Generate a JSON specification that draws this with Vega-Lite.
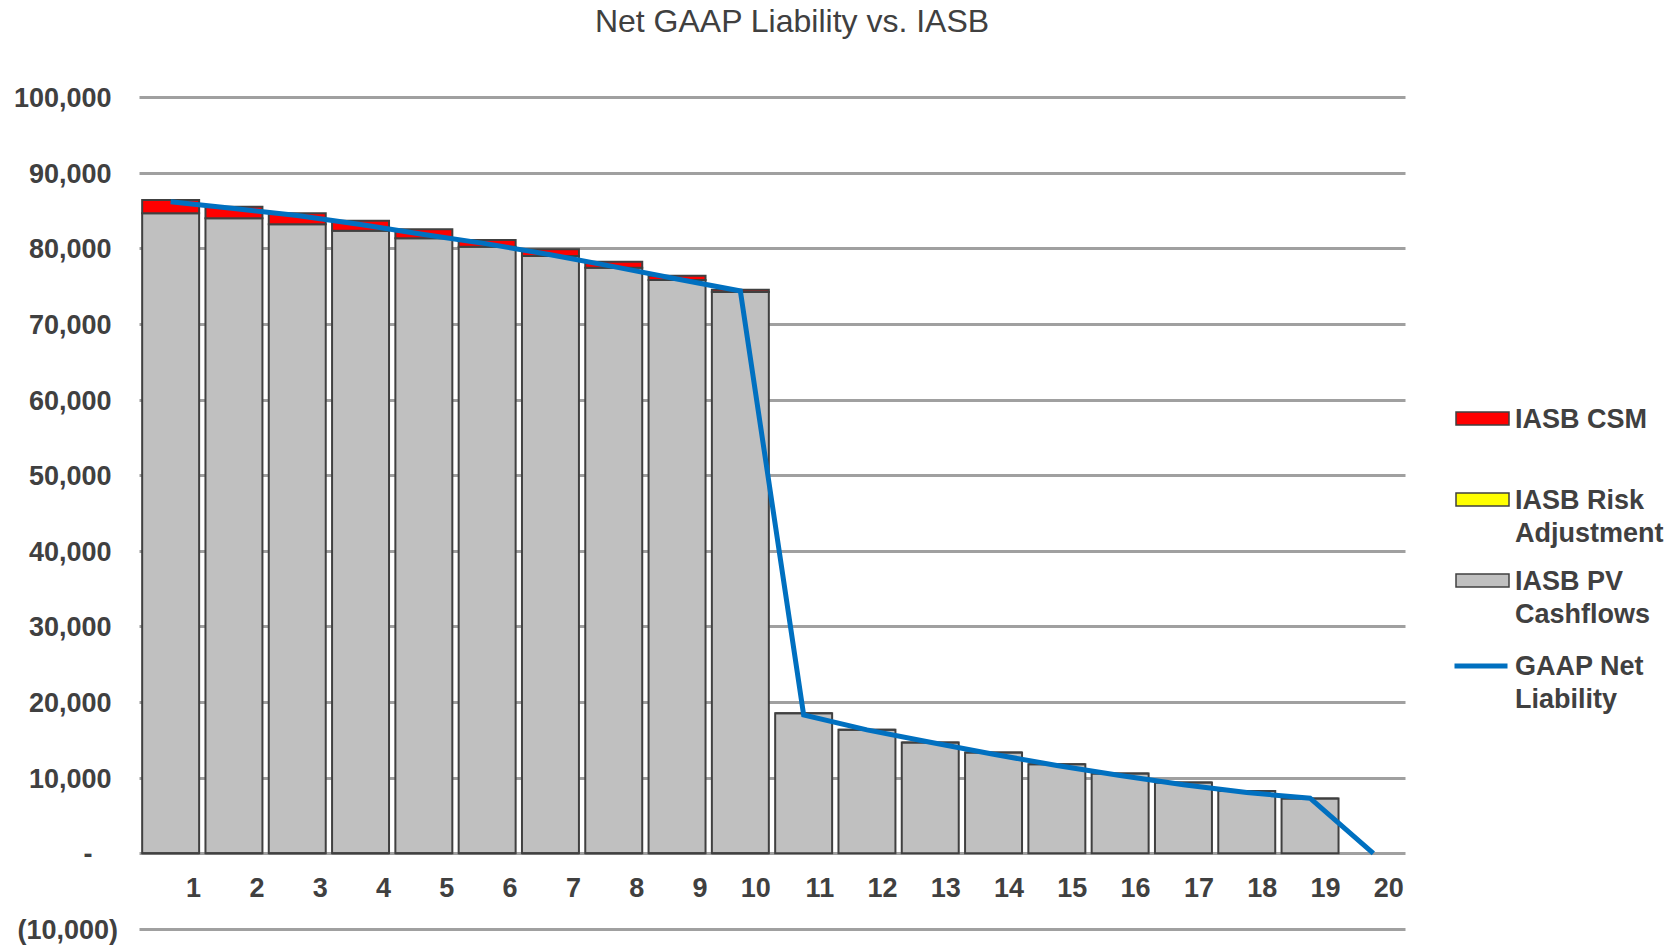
{
  "$schema": "https://vega.github.io/schema/vega-lite/v6.json",
  "width": 1266,
  "height": 832,
  "autosize": "none",
  "padding": {"left": 139, "top": 97, "right": 270, "bottom": 18},
  "background": "white",
  "config": {
    "view": {"stroke": null},
    "font": "Liberation Sans",
    "axis": {"labelFont": "Liberation Sans", "labelFontSize": 27, "labelFontWeight": "bold", "labelColor": "#404040", "title": null}
  },
  "title": {
    "text": "Net GAAP Liability vs. IASB",
    "font": "Liberation Sans",
    "fontSize": 32,
    "fontWeight": "normal",
    "color": "#404040",
    "anchor": "middle",
    "frame": "group",
    "dx": 20,
    "baseline": "alphabetic",
    "offset": 21
  },
  "datasets": {
    "bars": [
      {"period": 1, "series": "IASB PV Cashflows", "value": 84630},
      {"period": 2, "series": "IASB PV Cashflows", "value": 83960},
      {"period": 3, "series": "IASB PV Cashflows", "value": 83170},
      {"period": 4, "series": "IASB PV Cashflows", "value": 82330},
      {"period": 5, "series": "IASB PV Cashflows", "value": 81320},
      {"period": 6, "series": "IASB PV Cashflows", "value": 80210},
      {"period": 7, "series": "IASB PV Cashflows", "value": 78980},
      {"period": 8, "series": "IASB PV Cashflows", "value": 77440},
      {"period": 9, "series": "IASB PV Cashflows", "value": 75810},
      {"period": 10, "series": "IASB PV Cashflows", "value": 74220},
      {"period": 11, "series": "IASB PV Cashflows", "value": 18530},
      {"period": 12, "series": "IASB PV Cashflows", "value": 16330},
      {"period": 13, "series": "IASB PV Cashflows", "value": 14650},
      {"period": 14, "series": "IASB PV Cashflows", "value": 13330},
      {"period": 15, "series": "IASB PV Cashflows", "value": 11790},
      {"period": 16, "series": "IASB PV Cashflows", "value": 10550},
      {"period": 17, "series": "IASB PV Cashflows", "value": 9360},
      {"period": 18, "series": "IASB PV Cashflows", "value": 8260},
      {"period": 19, "series": "IASB PV Cashflows", "value": 7250},
      {"period": 1, "series": "IASB Risk Adjustment", "value": 0},
      {"period": 2, "series": "IASB Risk Adjustment", "value": 0},
      {"period": 3, "series": "IASB Risk Adjustment", "value": 0},
      {"period": 4, "series": "IASB Risk Adjustment", "value": 0},
      {"period": 5, "series": "IASB Risk Adjustment", "value": 0},
      {"period": 6, "series": "IASB Risk Adjustment", "value": 0},
      {"period": 7, "series": "IASB Risk Adjustment", "value": 0},
      {"period": 8, "series": "IASB Risk Adjustment", "value": 0},
      {"period": 9, "series": "IASB Risk Adjustment", "value": 0},
      {"period": 10, "series": "IASB Risk Adjustment", "value": 0},
      {"period": 1, "series": "IASB CSM", "value": 1760},
      {"period": 2, "series": "IASB CSM", "value": 1540},
      {"period": 3, "series": "IASB CSM", "value": 1460},
      {"period": 4, "series": "IASB CSM", "value": 1320},
      {"period": 5, "series": "IASB CSM", "value": 1190},
      {"period": 6, "series": "IASB CSM", "value": 890},
      {"period": 7, "series": "IASB CSM", "value": 890},
      {"period": 8, "series": "IASB CSM", "value": 790},
      {"period": 9, "series": "IASB CSM", "value": 570},
      {"period": 10, "series": "IASB CSM", "value": 310},
      {"period": 11, "series": "IASB CSM", "value": 0},
      {"period": 12, "series": "IASB CSM", "value": 0},
      {"period": 13, "series": "IASB CSM", "value": 0},
      {"period": 14, "series": "IASB CSM", "value": 0},
      {"period": 15, "series": "IASB CSM", "value": 0},
      {"period": 16, "series": "IASB CSM", "value": 0},
      {"period": 17, "series": "IASB CSM", "value": 0},
      {"period": 18, "series": "IASB CSM", "value": 0},
      {"period": 19, "series": "IASB CSM", "value": 0}
    ],
    "line": [
      {"period": 1, "series": "GAAP Net Liability", "gaap": 86160},
      {"period": 2, "series": "GAAP Net Liability", "gaap": 85260},
      {"period": 3, "series": "GAAP Net Liability", "gaap": 84330},
      {"period": 4, "series": "GAAP Net Liability", "gaap": 83130},
      {"period": 5, "series": "GAAP Net Liability", "gaap": 81820},
      {"period": 6, "series": "GAAP Net Liability", "gaap": 80580},
      {"period": 7, "series": "GAAP Net Liability", "gaap": 79150},
      {"period": 8, "series": "GAAP Net Liability", "gaap": 77570},
      {"period": 9, "series": "GAAP Net Liability", "gaap": 75940},
      {"period": 10, "series": "GAAP Net Liability", "gaap": 74360},
      {"period": 11, "series": "GAAP Net Liability", "gaap": 18310},
      {"period": 12, "series": "GAAP Net Liability", "gaap": 16330},
      {"period": 13, "series": "GAAP Net Liability", "gaap": 14700},
      {"period": 14, "series": "GAAP Net Liability", "gaap": 13110},
      {"period": 15, "series": "GAAP Net Liability", "gaap": 11610},
      {"period": 16, "series": "GAAP Net Liability", "gaap": 10290},
      {"period": 17, "series": "GAAP Net Liability", "gaap": 9080},
      {"period": 18, "series": "GAAP Net Liability", "gaap": 8040},
      {"period": 19, "series": "GAAP Net Liability", "gaap": 7290},
      {"period": 20, "series": "GAAP Net Liability", "gaap": 0}
    ]
  },
  "layer": [
    {
      "data": {"name": "bars"},
      "mark": {"type": "bar", "stroke": "#404040", "strokeWidth": 2},
      "encoding": {
        "x": {
          "field": "period",
          "type": "ordinal",
          "scale": {"domain": [1,2,3,4,5,6,7,8,9,10,11,12,13,14,15,16,17,18,19,20], "paddingInner": 0.1, "paddingOuter": 0.05},
          "axis": {"orient": "bottom", "offset": -75.6, "domain": false, "ticks": false, "grid": false, "labelAngle": 0, "labelAlign": "right", "labelOffset": 30.5, "labelPadding": 22}
        },
        "y": {
          "field": "value",
          "type": "quantitative",
          "stack": "zero",
          "scale": {"domain": [-10000, 100000], "nice": false, "zero": false},
          "axis": {
            "values": [-10000, 0, 10000, 20000, 30000, 40000, 50000, 60000, 70000, 80000, 90000, 100000],
            "domain": false,
            "ticks": false,
            "grid": true,
            "gridColor": "#a0a0a0",
            "gridWidth": 3,
            "labelPadding": {"condition": [{"test": "datum.value == 0", "value": 47}, {"test": "datum.value < 0", "value": 21.5}], "value": 28},
            "labelOffset": 1.5,
            "labelExpr": "datum.value == 0 ? '-' : (datum.value < 0 ? '(' + format(-datum.value, ',') + ')' : format(datum.value, ','))"
          }
        },
        "color": {
          "field": "series",
          "type": "nominal",
          "scale": {"domain": ["IASB CSM", "IASB Risk Adjustment", "IASB PV Cashflows"], "range": ["#ff0000", "#ffff00", "#c0c0c0"]},
          "legend": {
            "orient": "none",
            "legendX": 1316,
            "legendY": 294,
            "title": null,
            "padding": 0,
            "symbolType": "M-1,-0.245H1V0.245H-1Z",
            "symbolSize": 2809,
            "symbolStrokeColor": "#404040",
            "symbolStrokeWidth": 1.5,
            "labelFont": "Liberation Sans",
            "labelFontSize": 27,
            "labelFontWeight": "bold",
            "labelColor": "#404040",
            "labelOffset": 5,
            "labelLimit": 400,
            "labelBaseline": "top",
            "rowPadding": 6,
            "labelExpr": "datum.label == 'IASB Risk Adjustment' ? ['IASB Risk', 'Adjustment'] : (datum.label == 'IASB PV Cashflows' ? ['IASB PV', 'Cashflows'] : [datum.label, '\u00a0'])",
            "encode": {"labels": {"update": {"lineHeight": {"value": 33}, "dy": {"value": -12}}}}
          }
        },
        "order": {"field": "series", "sort": "descending"}
      }
    },
    {
      "data": {"name": "line"},
      "mark": {"type": "line", "strokeWidth": 5},
      "encoding": {
        "x": {"field": "period", "type": "ordinal"},
        "y": {"field": "gaap", "type": "quantitative"},
        "stroke": {
          "field": "series",
          "type": "nominal",
          "scale": {"domain": ["GAAP Net Liability"], "range": ["#0070c0"]},
          "legend": {
            "orient": "none",
            "legendX": 1313,
            "legendY": 540,
            "title": null,
            "padding": 0,
            "symbolType": "stroke",
            "symbolSize": 2809,
            "symbolStrokeWidth": 5,
            "labelFont": "Liberation Sans",
            "labelFontSize": 27,
            "labelFontWeight": "bold",
            "labelColor": "#404040",
            "labelOffset": 5,
            "labelLimit": 400,
            "labelBaseline": "top",
            "labelExpr": "['GAAP Net', 'Liability']",
            "encode": {"labels": {"update": {"lineHeight": {"value": 33}, "dy": {"value": -12}}}}
          }
        }
      }
    }
  ]
}
